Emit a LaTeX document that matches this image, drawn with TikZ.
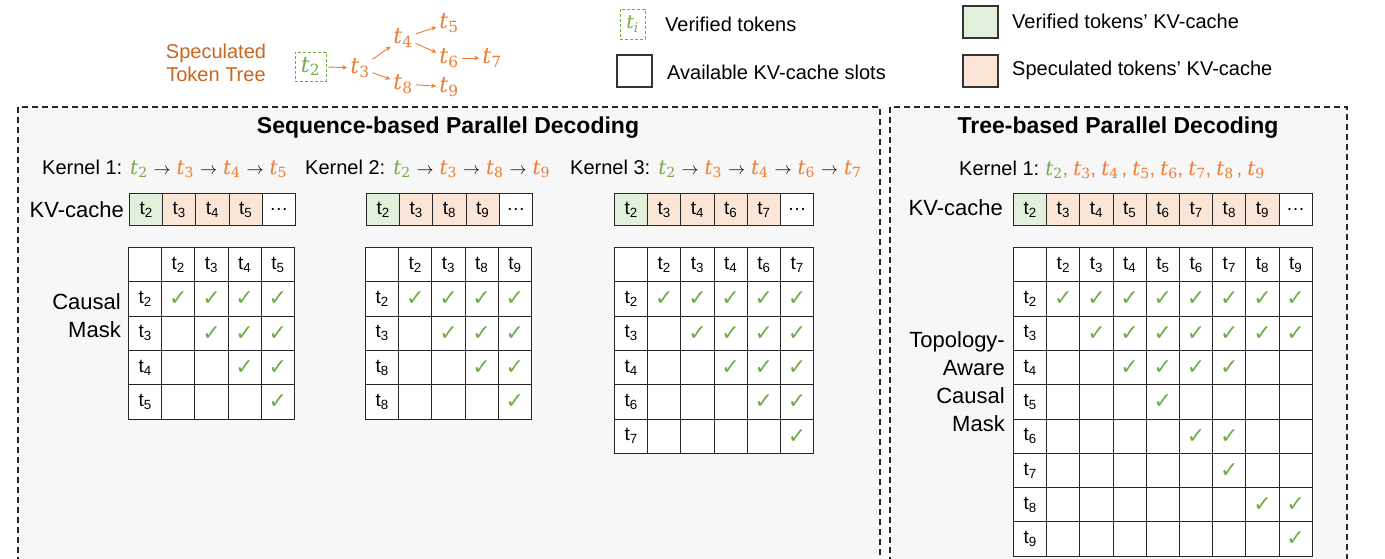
\documentclass[tikz,border=0pt]{standalone}
\usepackage{fix-cm}
\usepackage{fontspec}
\setmainfont{Liberation Sans}
\newfontfamily\tickfont{DejaVu Sans}
\newfontfamily\tokfont{DejaVu Serif}
\usetikzlibrary{arrows.meta, positioning}
\definecolor{verigreen}{HTML}{70AD47}
\definecolor{specorange}{HTML}{ED7D31}
\definecolor{treelabel}{HTML}{C9661F}
\definecolor{kvgreen}{HTML}{E2EFDA}
\definecolor{kvorange}{HTML}{FBE5D6}
\definecolor{panelgray}{HTML}{F7F7F7}

\newcommand{\tk}[1]{{\tokfont\itshape t}\textsubscript{\tokfont #1}}
\newcommand{\vtk}[1]{{\color{verigreen}\tk{#1}}}
\newcommand{\stk}[1]{{\color{specorange}\tk{#1}}}
\newcommand{\arr}{\hspace{6pt}{\fontsize{17}{17}\selectfont$\rightarrow$}\hspace{6pt}}
\newcommand{\cm}{,\hspace{5pt}}
\def\cellw{33.2}
\def\cellh{34.3}

\tikzset{
    txt/.style={font=\fontsize{20}{24}\selectfont, inner sep=0pt},
    bigtxt/.style={font=\fontsize{22}{28}\selectfont, inner sep=0pt, align=right},
    title/.style={font=\fontsize{23}{27}\selectfont\bfseries, inner sep=0pt},
    tok/.style={font=\fontsize{22}{22}\selectfont, text=specorange, inner sep=1pt},
    treearrow/.style={specorange, line width=0.9pt, -{Stealth[length=5pt,width=4.5pt]}, shorten <=2pt, shorten >=2pt},
    panel/.style={draw=black!85, fill=panelgray, line width=1.4pt, dash pattern=on 6pt off 4pt},
    verbox/.style={draw=verigreen, line width=1pt, dash pattern=on 3pt off 2pt},
    legendbox/.style={draw=black!80, line width=1.5pt, minimum width=35pt, minimum height=32pt, inner sep=0pt},
    cell/.style={draw=black!85, line width=1pt, minimum width=\cellw pt, minimum height=\cellh pt, anchor=north west, inner sep=0pt, font=\fontsize{19}{22}\selectfont},
    kvcell/.style={cell, minimum height=32pt},
    tick/.style={font=\tickfont\fontsize{22}{22}\selectfont, text=verigreen, inner sep=0pt}
}

% KV-cache row: name, x, y, speculated tokens, slot of the dots
\newcommand{\kvrow}[5]{%
    \node[kvcell, fill=kvgreen] (#1-1) at (#2,#3) {t\textsubscript{2}};
    \foreach \tok [count=\i from 2] in {#4}
        \node[kvcell, fill=kvorange] (#1-\i) at ({#2+(\i-1)*\cellw},#3) {t\textsubscript{\tok}};
    \node[kvcell, fill=white] (#1-#5) at ({#2+(#5-1)*\cellw},#3) {\dots};
}

% mask grid: name, x, y, column tokens, row tokens
\newcommand{\maskgrid}[5]{%
    \node[cell, fill=white] (#1-0-0) at (#2,#3) {};
    \foreach \tok [count=\mc] in {#4}
        \node[cell, fill=white] (#1-0-\mc) at ({#2+\mc*\cellw},#3) {t\textsubscript{\tok}};
    \foreach \tok [count=\mr] in {#5} {
        \node[cell, fill=white] (#1-\mr-0) at (#2,{#3+\mr*\cellh}) {t\textsubscript{\tok}};
        \foreach \tk [count=\mc] in {#4}
            \node[cell, fill=white] (#1-\mr-\mc) at ({#2+\mc*\cellw},{#3+\mr*\cellh}) {};
    }
}

\begin{document}
\begin{tikzpicture}[x=1pt, y=-1pt]
    \useasboundingbox (0,0) rectangle (1385,558);
    \clip (0,0) rectangle (1385,558);
    \fill[white] (0,0) rectangle (1385,558);

    % Speculated token tree
    \node[txt, text=treelabel, align=center, font=\fontsize{20}{23}\selectfont] (treelab) at (216,63) {Speculated\\Token Tree};
    \node[tok, text=verigreen, verbox, minimum width=31pt, minimum height=29pt] (tt2) at (310.5,66.5) {\tk{2}};
    \node[tok] (tt3) at (360,68) {\tk{3}};
    \node[tok] (tt4) at (403,38) {\tk{4}};
    \node[tok] (tt5) at (449,23) {\tk{5}};
    \node[tok] (tt6) at (449,58) {\tk{6}};
    \node[tok] (tt7) at (492,58) {\tk{7}};
    \node[tok] (tt8) at (403,84) {\tk{8}};
    \node[tok] (tt9) at (449,87) {\tk{9}};
    \draw[treearrow] (tt2) -- (tt3);
    \draw[treearrow] (tt3) -- (tt4);
    \draw[treearrow] (tt3) -- (tt8);
    \draw[treearrow] (tt4) -- (tt5);
    \draw[treearrow] (tt4) -- (tt6);
    \draw[treearrow] (tt6) -- (tt7);
    \draw[treearrow] (tt8) -- (tt9);

    % Legend
    \node[verbox, minimum width=25pt, minimum height=30pt, inner sep=0pt, font=\fontsize{19}{19}\selectfont, text=verigreen] (lgver) at (632.5,24) {{\tokfont\itshape t}\textsubscript{\tokfont\itshape i}};
    \node[txt, anchor=west] (lgvertxt) at (665,24) {Verified tokens};
    \node[legendbox, fill=white] (lgfree) at (634.5,71) {};
    \node[txt, anchor=west] (lgfreetxt) at (667,72) {Available KV-cache slots};
    \node[legendbox, fill=kvgreen] (lgkvv) at (980.5,22) {};
    \node[txt, anchor=west] (lgkvvtxt) at (1012,21) {Verified tokens’ KV-cache};
    \node[legendbox, fill=kvorange] (lgkvs) at (980.5,71) {};
    \node[txt, anchor=west] (lgkvstxt) at (1012,70) {Speculated tokens’ KV-cache};

    % Panels
    \draw[panel] (18,107) rectangle (880,600);
    \draw[panel] (890,107) rectangle (1347,600);
    \node[title] (seqtitle) at (448,128) {Sequence-based Parallel Decoding};
    \node[title] (treetitle) at (1118,128) {Tree-based Parallel Decoding};

    % Sequence-based kernels
    \node[txt, anchor=west] (kern1) at (42,169) {Kernel 1:\hspace{8pt}\vtk{2}\arr\stk{3}\arr\stk{4}\arr\stk{5}};
    \node[txt, anchor=west] (kern2) at (305,169) {Kernel 2:\hspace{8pt}\vtk{2}\arr\stk{3}\arr\stk{8}\arr\stk{9}};
    \node[txt, anchor=west] (kern3) at (570,169) {Kernel 3:\hspace{8pt}\vtk{2}\arr\stk{3}\arr\stk{4}\arr\stk{6}\arr\stk{7}};
    \node[bigtxt, anchor=east] (kvlab1) at (124,210) {KV-cache};
    \kvrow{kv1}{129}{193}{3,4,5}{5}
    \kvrow{kv2}{366}{193}{3,8,9}{5}
    \kvrow{kv3}{614}{193}{3,4,6,7}{6}

    % Causal masks
    \node[bigtxt, anchor=east] (masklab1) at (121,316) {Causal\\Mask};
    \maskgrid{m1}{128}{247}{2,3,4,5}{2,3,4,5}
    \maskgrid{m2}{365}{247}{2,3,8,9}{2,3,8,8}
    \maskgrid{m3}{614}{247}{2,3,4,6,7}{2,3,4,6,7}
    \foreach \mr in {1,...,4}
        \foreach \mc in {\mr,...,4} {
            \node[tick] at (m1-\mr-\mc) {✓};
            \node[tick] at (m2-\mr-\mc) {✓};
        }
    \foreach \mr in {1,...,5}
        \foreach \mc in {\mr,...,5}
            \node[tick] at (m3-\mr-\mc) {✓};

    % Tree-based kernel
    \node[txt, anchor=west] (kern4) at (959,170) {Kernel 1:\hspace{6pt}\vtk{2}{\color{specorange}\cm\tk{3}\cm\tk{4}\hspace{3pt}\cm\tk{5}\cm\tk{6}\cm\tk{7}\cm\tk{8}\hspace{3pt}\cm\tk{9}}};
    \node[bigtxt, anchor=east] (kvlab2) at (1003,208) {KV-cache};
    \kvrow{kvt}{1013}{193}{3,4,5,6,7,8,9}{9}

    % Topology-aware causal mask
    \node[bigtxt, anchor=east] (masklab2) at (1005,382) {Topology-\\Aware\\Causal\\Mask};
    \maskgrid{mt}{1013}{247}{2,3,4,5,6,7,8,9}{2,3,4,5,6,7,8,9}
    \foreach \mr/\mc in {1/1,1/2,1/3,1/4,1/5,1/6,1/7,1/8,
                         2/2,2/3,2/4,2/5,2/6,2/7,2/8,
                         3/3,3/4,3/5,3/6, 4/4, 5/5,5/6, 6/6, 7/7,7/8, 8/8}
        \node[tick] at (mt-\mr-\mc) {✓};
\end{tikzpicture}
\end{document}
